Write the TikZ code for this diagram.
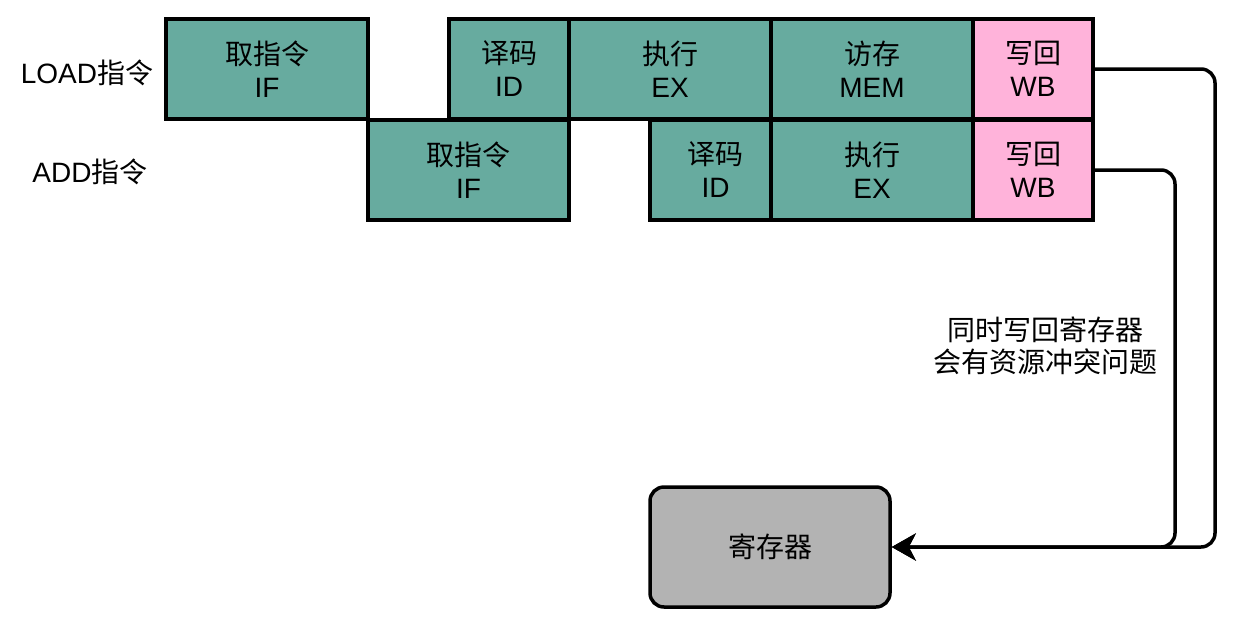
\documentclass[tikz,border=0pt]{standalone}
\usepackage{fontspec}
\setmainfont{Liberation Sans}
\newfontfamily\cjk{Noto Sans CJK SC}
\usetikzlibrary{arrows.meta}
\definecolor{stagegreen}{HTML}{67AB9F}
\definecolor{wbpink}{HTML}{FFB3DA}
\definecolor{reggray}{HTML}{B3B3B3}
\tikzset{
  stage/.style={draw=black, line width=3.5pt, fill=stagegreen, inner sep=0pt, minimum height=100pt, align=center, font=\fontsize{28}{33}\selectfont},
  wbbox/.style={stage, fill=wbpink},
  rowlabel/.style={inner sep=0pt, font=\fontsize{28}{33}\selectfont},
  conn/.style={draw=black, line width=3.5pt, rounded corners=14pt, -{Stealth[length=24pt,width=27pt,inset=7pt]}},
}
\begin{document}
\begin{tikzpicture}[x=1pt,y=-1pt]
\useasboundingbox (0,0) rectangle (1239,624);
% row labels
\node[rowlabel] (lbl1) at (87,73) {LOAD{\cjk 指令}};
\node[rowlabel] (lbl2) at (90,172) {ADD{\cjk 指令}};
% row 1
\node[stage, minimum width=202pt] (if1) at (267,69) {{\cjk 取指令}\\IF};
\node[stage, minimum width=120pt] (id1) at (509,69) {{\cjk 译码}\\ID};
\node[stage, minimum width=202pt] (ex1) at (670,69) {{\cjk 执行}\\EX};
\node[stage, minimum width=202pt] (mem1) at (872,69) {{\cjk 访存}\\MEM};
\node[wbbox, minimum width=120pt] (wb1) at (1033,69) {{\cjk 写回}\\WB};
% row 2
\node[stage, minimum width=201pt] (if2) at (468.5,170) {{\cjk 取指令}\\IF};
\node[stage, minimum width=121pt] (id2) at (710.5,170) {\hspace*{10pt}{\cjk 译码}\\\hspace*{10pt}ID};
\node[stage, minimum width=202pt] (ex2) at (872,170) {{\cjk 执行}\\EX};
\node[wbbox, minimum width=120pt] (wb2) at (1033,170) {{\cjk 写回}\\WB};
% register
\node[draw=black, line width=3.5pt, fill=reggray, rounded corners=14pt, minimum width=240pt, minimum height=120pt, inner sep=0pt, font=\fontsize{28}{33}\selectfont\cjk] (reg) at (770,547) {寄存器};
% note
\node[align=center, inner sep=0pt, font=\fontsize{28}{32}\selectfont\cjk] (note) at (1045,346) {同时写回寄存器\\会有资源冲突问题};
% connectors
\coordinate (c1) at (1215,0);
\coordinate (c2) at (1175,0);
\draw[conn] (wb1.east) -| (c1 |- reg.east) -- (reg.east);
\draw[conn] (wb2.east) -| (c2 |- reg.east) -- (reg.east);
\end{tikzpicture}
\end{document}
